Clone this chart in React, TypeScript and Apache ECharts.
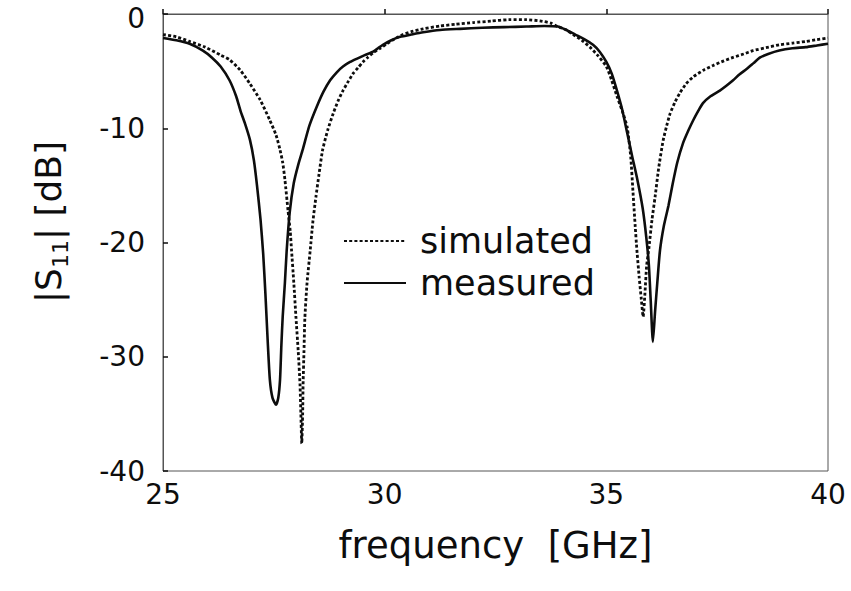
import React, { useEffect, useRef } from "react";
import * as echarts from "echarts";

const xTicks = [25, 30, 35, 40];
const yTicks = [-40, -30, -20, -10, 0];

const freqMeasured = [
  25.0, 25.3, 25.6, 25.9, 26.1, 26.3, 26.5, 26.65, 26.75, 26.85, 26.96, 27.05, 27.12, 27.2, 27.26, 27.31,
  27.36, 27.41, 27.47, 27.55, 27.6, 27.64, 27.67, 27.7, 27.75, 27.79, 27.86, 27.95, 28.05, 28.15, 28.3,
  28.47, 28.62, 28.77, 28.92, 29.06, 29.22, 29.38, 29.55, 29.74, 29.85, 29.96, 30.15, 30.35, 30.6, 30.87,
  31.25, 31.7, 32.2, 32.7, 33.2, 33.6, 33.9, 34.1, 34.3, 34.5, 34.7, 34.85, 35.0, 35.12, 35.24, 35.36,
  35.47, 35.58, 35.7, 35.82, 35.9, 35.96, 36.0, 36.05, 36.1, 36.15, 36.21, 36.3, 36.4, 36.5, 36.6, 36.73,
  36.85, 36.96, 37.07, 37.18, 37.35, 37.56, 37.7, 37.86, 38.0, 38.17, 38.32, 38.47, 38.65, 38.9, 39.2,
  39.5, 39.75, 40.0,
];
const s11Measured = [
  -2.1, -2.3, -2.6, -3.2, -3.8, -4.6, -5.8, -7.2, -8.5, -9.6, -11.0, -12.8, -15, -18, -21, -24.5,
  -28.5, -32.0, -33.6, -34.2, -33.6, -32.0, -29, -26.5, -23.5, -20.7, -17.3, -14.8, -13.2, -11.9, -9.8,
  -8.1, -6.8, -5.8, -5.1, -4.6, -4.2, -3.9, -3.6, -3.3, -3.0, -2.7, -2.3, -2.0, -1.8, -1.6,
  -1.4, -1.3, -1.2, -1.15, -1.1, -1.05, -1.1, -1.4, -1.8, -2.2, -2.7, -3.3, -4.2, -5.2, -6.7, -8.4,
  -10.4, -12.4, -14.5, -17, -19.5, -22, -25, -28.7, -26, -23.5, -20.7, -18.5, -16.8, -14.8, -13, -11.3,
  -10.2, -9.3, -8.5, -7.8, -7.2, -6.7, -6.3, -5.8, -5.3, -4.8, -4.3, -3.8, -3.5, -3.2, -3.0,
  -2.9, -2.75, -2.6,
];

const freqSimulated = [
  25.0, 25.3, 25.6, 25.95, 26.3, 26.5, 26.74, 26.96, 27.19, 27.41, 27.55, 27.64, 27.7, 27.75, 27.82, 27.87,
  27.9, 27.95, 28.0, 28.05, 28.09, 28.11, 28.13, 28.15, 28.16, 28.18, 28.2, 28.25, 28.32, 28.38, 28.45,
  28.52, 28.6, 28.72, 28.84, 28.95, 29.06, 29.18, 29.29, 29.4, 29.51, 29.62, 29.74, 29.9, 30.05, 30.22,
  30.41, 30.6, 30.87, 31.25, 31.6, 32.0, 32.4, 32.8, 33.2, 33.5, 33.75, 33.9, 34.1, 34.25, 34.45, 34.63,
  34.8, 35.0, 35.12, 35.24, 35.36, 35.47, 35.55, 35.6, 35.65, 35.69, 35.74, 35.79, 35.83, 35.87, 35.91,
  35.96, 36.03, 36.1, 36.18, 36.28, 36.36, 36.44, 36.55, 36.66, 36.8, 36.96, 37.2, 37.41, 37.65, 37.86,
  38.1, 38.31, 38.6, 38.9, 39.2, 39.5, 39.75, 40.0,
];
const s11Simulated = [
  -1.8, -2.0, -2.4, -2.9, -3.6, -4.0, -4.9, -6.1, -7.5, -9.3, -10.6, -11.9, -13, -14.5, -17.2, -19,
  -20.7, -23.5, -26.6, -29.5, -32.4, -35, -37.6, -35, -32.4, -29.5, -26.6, -23.5, -20.7, -18.2, -16,
  -14, -11.9, -10.1, -8.7, -7.6, -6.7, -5.9, -5.2, -4.7, -4.2, -3.8, -3.4, -3.0, -2.6, -2.2,
  -1.8, -1.55, -1.3, -1.05, -0.9, -0.75, -0.62, -0.5, -0.5, -0.6, -0.8, -1.1, -1.4, -1.8, -2.3, -2.9,
  -3.6, -4.6, -5.8, -7.2, -8.5, -9.9, -12.5, -15.5, -18.5, -20.7, -23, -25, -26.5, -24.5, -22,
  -20.5, -18, -16, -13.5, -11.1, -9.8, -8.7, -7.7, -6.9, -6.1, -5.5, -4.9, -4.5, -4.1, -3.8,
  -3.5, -3.2, -2.95, -2.7, -2.55, -2.4, -2.25, -2.1,
];

const FONT = "'DejaVu Sans', 'Liberation Sans', Arial, sans-serif";
const INK = "#0d0d0d";

export default function App() {
  const ref = useRef<HTMLDivElement>(null);
  useEffect(() => {
    if (!ref.current) return;
    const chart = echarts.init(ref.current, undefined, { renderer: "svg" });
    const measured = freqMeasured.map((f, i) => [f, s11Measured[i]]);
    const simulated = freqSimulated.map((f, i) => [f, s11Simulated[i]]);
    chart.setOption({
      animation: false,
      backgroundColor: "#ffffff",
      grid: {
        left: 163,
        top: 14,
        right: 23,
        bottom: 120,
        show: true,
        borderColor: "#555",
        borderWidth: 1,
      },
      xAxis: {
        type: "value",
        min: xTicks[0],
        max: xTicks[xTicks.length - 1],
        interval: 5,
        axisLine: { show: true, lineStyle: { color: "#555", width: 1 } },
        axisTick: { show: true, inside: true, length: 5, lineStyle: { color: INK, width: 1.5 } },
        splitLine: { show: false },
        axisLabel: {
          color: INK,
          fontSize: 28,
          fontFamily: FONT,
          margin: 9,
          formatter: (v: number) => (xTicks.includes(v) ? String(v) : ""),
        },
        name: "frequency  [GHz]",
        nameLocation: "middle",
        nameGap: 56,
        nameTextStyle: { color: INK, fontSize: 37, fontFamily: FONT },
      },
      yAxis: {
        type: "value",
        min: yTicks[0],
        max: yTicks[yTicks.length - 1],
        interval: 10,
        axisLine: { show: true, lineStyle: { color: "#555", width: 1 } },
        axisTick: { show: true, inside: true, length: 5, lineStyle: { color: INK, width: 1.5 } },
        splitLine: { show: false },
        axisLabel: {
          color: INK,
          fontSize: 28,
          fontFamily: FONT,
          margin: 18,
          formatter: (v: number) =>
            yTicks.includes(v) ? (v === 0 ? "{top|0}" : String(v)) : "",
          rich: {
            top: { fontSize: 28, fontFamily: FONT, color: INK, padding: [8, 0, 0, 0] },
          },
        },
      },
      legend: {
        orient: "vertical",
        left: 343,
        top: 223,
        padding: 0,
        itemWidth: 62,
        itemHeight: 14,
        itemGap: 6,
        itemStyle: { opacity: 0 },
        textStyle: { color: INK, fontSize: 35, fontFamily: FONT, lineHeight: 36, padding: [0, 0, 0, 9] },
        data: ["simulated", "measured"],
      },
      graphic: [
        {
          type: "text",
          x: 48,
          y: 222,
          rotation: Math.PI / 2,
          style: {
            text: "|S{sub|11}| [dB]",
            fill: INK,
            fontSize: 36,
            fontFamily: FONT,
            align: "center",
            verticalAlign: "middle",
            rich: {
              sub: { fontSize: 22, fontFamily: FONT, fill: INK, verticalAlign: "bottom", lineHeight: 46 },
            },
          },
        },
      ],
      series: [
        {
          name: "simulated",
          type: "line",
          data: simulated,
          showSymbol: false,
          symbol: "none",
          smooth: 0.2,
          lineStyle: { color: INK, width: 2.8, type: [3, 2.2] },
          itemStyle: { color: INK },
          z: 3,
        },
        {
          name: "measured",
          type: "line",
          data: measured,
          showSymbol: false,
          symbol: "none",
          smooth: 0.2,
          lineStyle: { color: INK, width: 2.6, type: "solid" },
          itemStyle: { color: INK },
          z: 2,
        },
      ],
    });
    return () => chart.dispose();
  }, []);
  return (
    <div
      ref={ref}
      style={{ position: "fixed", left: 0, top: 0, width: 851, height: 591, background: "#fff" }}
    />
  );
}
